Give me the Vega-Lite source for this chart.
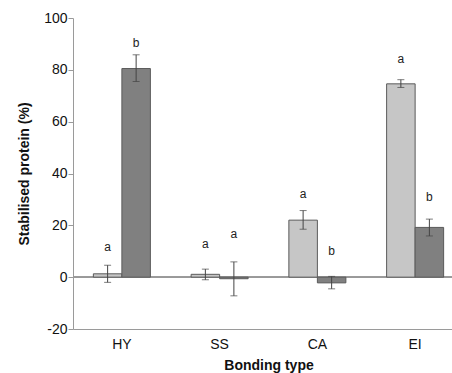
{
  "$schema": "https://vega.github.io/schema/vega-lite/v6.json",
  "width": 379,
  "height": 311,
  "autosize": {"type": "none"},
  "padding": {"left": 73, "top": 18, "right": 0, "bottom": 44},
  "background": "white",
  "config": {
    "view": {"stroke": null},
    "font": "Liberation Sans",
    "axis": {"labelFont": "Liberation Sans", "titleFont": "Liberation Sans", "labelColor": "#111", "titleColor": "#111", "domainColor": "#9a9a9a", "tickColor": "#9a9a9a", "grid": false}
  },
  "data": {
    "values": [
      {"type": "HY", "group": "S1", "value": 1.3, "lo": -2.0, "hi": 4.6, "letter": "a", "ly": 11.6},
      {"type": "HY", "group": "S2", "value": 80.5, "lo": 75.5, "hi": 85.8, "letter": "b", "ly": 90.5},
      {"type": "SS", "group": "S1", "value": 1.1, "lo": -1.0, "hi": 3.1, "letter": "a", "ly": 12.8},
      {"type": "SS", "group": "S2", "value": -0.6, "lo": -7.2, "hi": 5.9, "letter": "a", "ly": 16.6},
      {"type": "CA", "group": "S1", "value": 22.0, "lo": 18.5, "hi": 25.7, "letter": "a", "ly": 32.0},
      {"type": "CA", "group": "S2", "value": -2.2, "lo": -4.5, "hi": 0.3, "letter": "b", "ly": 10.0},
      {"type": "EI", "group": "S1", "value": 74.6, "lo": 73.2, "hi": 76.2, "letter": "a", "ly": 84.0},
      {"type": "EI", "group": "S2", "value": 19.2, "lo": 15.9, "hi": 22.4, "letter": "b", "ly": 31.0}
    ]
  },
  "encoding": {
    "x": {
      "field": "type", "type": "nominal", "sort": ["HY", "SS", "CA", "EI"],
      "scale": {"range": [0, 391], "paddingInner": 0, "paddingOuter": 0},
      "axis": {"title": "Bonding type", "labelAngle": 0, "ticks": false, "labelFontSize": 14, "labelPadding": 8, "titleFontSize": 14, "titleFontWeight": "bold", "titlePadding": 7}
    },
    "xOffset": {"field": "group", "type": "nominal", "scale": {"paddingInner": 0, "paddingOuter": 0.714}}
  },
  "layer": [
    {
      "mark": {"type": "rule", "color": "#9a9a9a", "strokeWidth": 1},
      "encoding": {"y": {"datum": 0, "type": "quantitative"}, "x": null, "xOffset": null}
    },
    {
      "mark": {"type": "bar", "stroke": "#5a5a5a", "strokeWidth": 1},
      "encoding": {
        "y": {
          "field": "value", "type": "quantitative",
          "scale": {"domain": [-20, 100], "nice": false},
          "axis": {"title": "Stabilised protein (%)", "values": [-20, 0, 20, 40, 60, 80, 100], "labelExpr": "'' + datum.value", "tickSize": 5, "labelFontSize": 14, "labelPadding": 1, "titleFontSize": 14, "titleFontWeight": "bold", "titlePadding": 12}
        },
        "fill": {"field": "group", "type": "nominal", "scale": {"domain": ["S1", "S2"], "range": ["#c6c6c6", "#808080"]}, "legend": null}
      }
    },
    {
      "mark": {"type": "rule", "color": "#444", "strokeWidth": 1},
      "encoding": {"y": {"field": "lo", "type": "quantitative"}, "y2": {"field": "hi"}}
    },
    {
      "mark": {"type": "tick", "color": "#444", "size": 7, "thickness": 1},
      "encoding": {"y": {"field": "hi", "type": "quantitative"}}
    },
    {
      "mark": {"type": "tick", "color": "#444", "size": 7, "thickness": 1},
      "encoding": {"y": {"field": "lo", "type": "quantitative"}}
    },
    {
      "mark": {"type": "text", "fontSize": 12, "color": "#222", "baseline": "middle"},
      "encoding": {"y": {"field": "ly", "type": "quantitative"}, "text": {"field": "letter"}}
    }
  ]
}
